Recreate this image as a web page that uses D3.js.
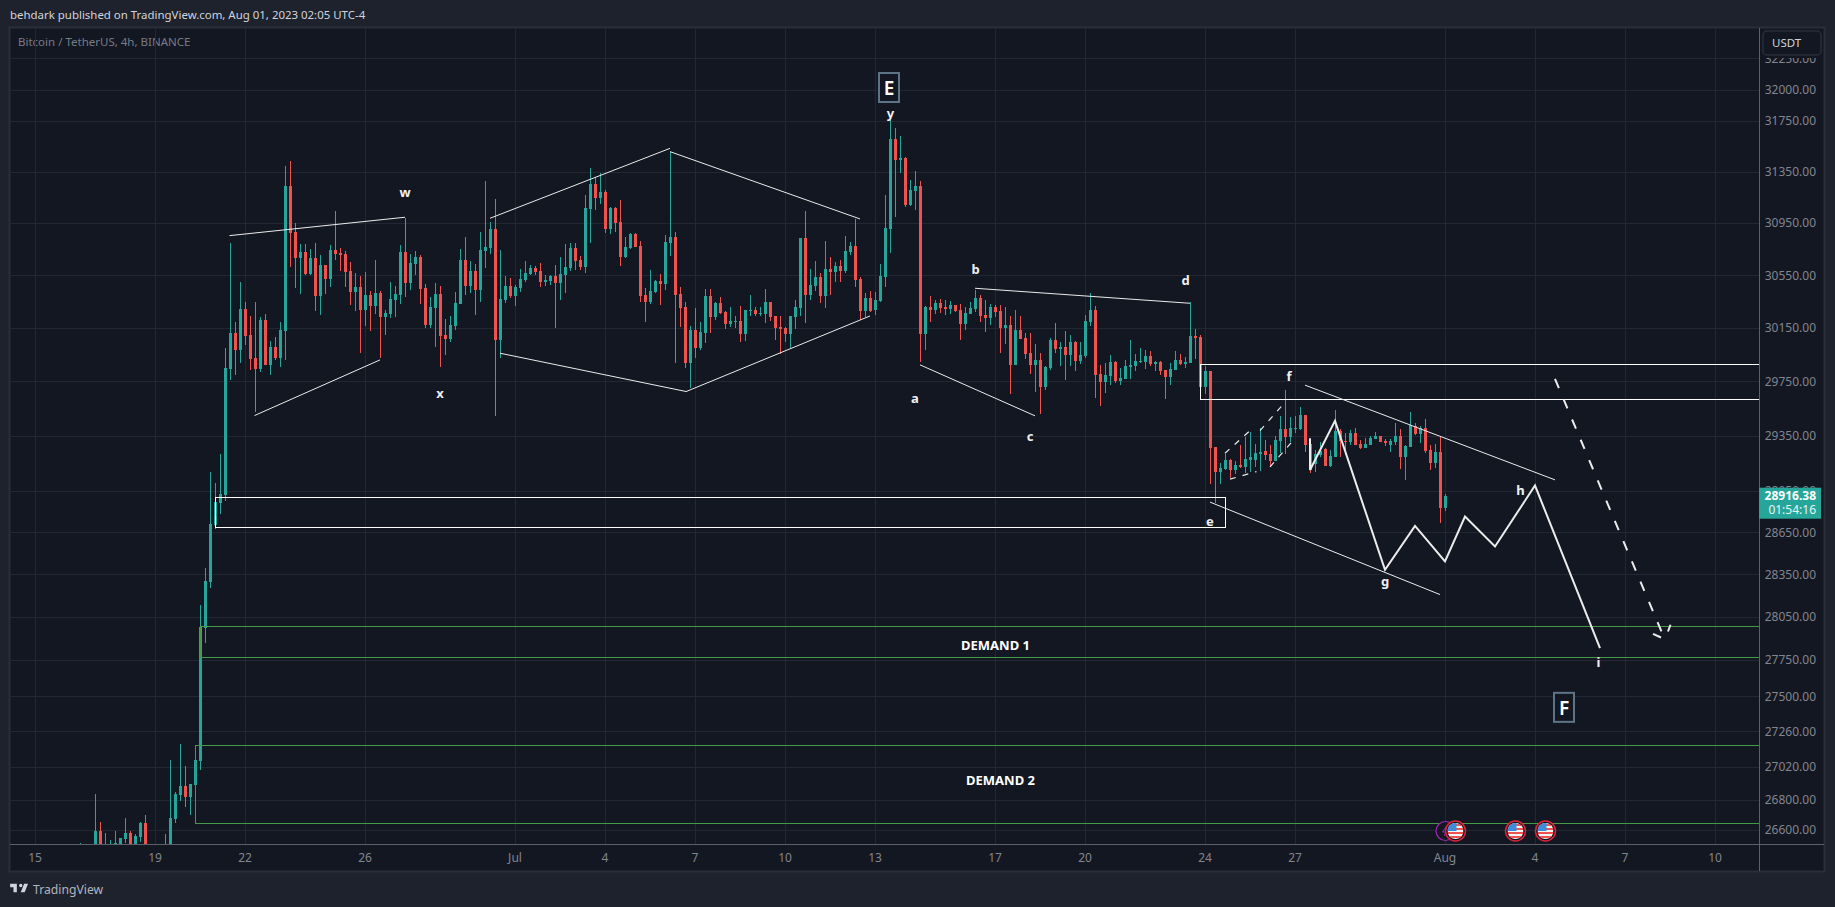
<!DOCTYPE html>
<html>
<head>
<meta charset="utf-8">
<title>BTCUSDT 4h</title>
<script src="https://cdn.jsdelivr.net/npm/d3@7/dist/d3.min.js"></script>
<style>
    html, body { margin: 0; padding: 0; background: #1e222d; overflow: hidden; }
    svg { display: block; }
    text { font-family: "Noto Sans", "Open Sans", sans-serif; }
</style>
</head>
<body>
<svg id="chart" width="1835" height="907"></svg>
<script>
// 4h candles, first bar is Jun 16 12:00, one row = ten bars
const opens = [
    26440,26450,26430,26460,26595,26480,26450,26470,26490,26541,
    26581,26490,26555,26648,26470,26450,26470,26490,26470,26674,
    26835,26895,26821,26902,27064,27978,28301,28707,28865,28923,
    29847,30116,29989,30297,30101,29929,29847,30214,29877,30011,
    29929,30131,31242,30885,30686,30732,30563,30686,30396,30632,
    30525,30747,30724,30716,30586,30426,30464,30290,30403,30320,
    30418,30237,30260,30365,30403,30732,30494,30640,30693,30456,
    30177,30305,30411,30101,30071,30169,30335,30670,30472,30586,
    30441,30739,30763,30909,30064,30365,30472,30396,30456,30517,
    30563,30609,30586,30502,30510,30548,30494,30556,30609,30763,
    30670,30617,31063,31258,31149,31195,30909,31071,30963,30693,
    30763,30870,30778,30403,30350,30426,30510,30487,30801,30847,
    30411,30312,29892,30139,30004,30116,30396,30237,30343,30275,
    30184,30199,30207,30109,30282,30290,30260,30260,30350,30244,
    30162,30154,30109,30237,30305,30839,30403,30472,30540,30396,
    30601,30578,30624,30586,30732,30778,30525,30282,30380,30290,
    30358,30540,30909,31611,31446,31461,31094,31203,31242,30109,
    30312,30290,30343,30312,30297,30327,30290,30184,30260,30297,
    30380,30252,30229,30312,30282,30154,30177,29877,30139,30079,
    29966,29877,29914,29713,29854,30064,29996,30011,29951,30049,
    29906,29944,30199,30290,29809,29750,29795,29899,29757,29772,
    29862,29869,29899,29899,29944,29884,29899,29839,29787,29839,
    29914,29884,29892,30094,30086,29713,29832,29271,29089,29110,
    29176,29103,29140,29125,29176,29176,29220,29242,29220,29169,
    29315,29403,29344,29403,29403,29506,29293,29147,29212,29256,
    29132,29198,29388,29315,29307,29373,29293,29263,29285,29329,
    29351,29315,29285,29307,29351,29198,29271,29425,29366,29410,
    29249,29154,29234,28829
];
const highs = [
    26515,26490,26480,26841,26654,26581,26535,26595,26548,26681,
    26595,26575,26654,26701,26500,26490,26500,26575,27070,26855,
    27179,27030,26909,27070,28139,28400,29089,29009,29220,30004,
    30801,30199,30502,30350,30244,30350,30237,30260,30056,30086,
    30199,31399,31438,30955,30793,30793,30755,30801,30709,30632,
    30786,31048,30763,30739,30655,30571,30548,30578,30434,30670,
    30434,30290,30502,30472,30786,30994,30716,30739,30709,30487,
    30388,30494,30472,30222,30244,30426,30755,30847,30662,30640,
    30885,31281,30963,31141,30747,30548,30533,30479,30601,30662,
    30632,30624,30647,30556,30556,30632,30693,30793,30801,30801,
    30701,31172,31383,31312,31344,31211,31079,31079,31133,30847,
    30878,30878,30816,30456,30594,30517,30563,30862,31508,30885,
    30464,30350,30169,30305,30199,30449,30449,30350,30388,30282,
    30312,30244,30320,30290,30403,30312,30312,30449,30350,30244,
    30244,30162,30244,30365,30839,31048,30601,30662,30571,30816,
    30693,30655,30670,30855,30809,30986,30540,30418,30434,30426,
    30640,31172,31761,31698,31635,31469,31289,31359,31281,30320,
    30396,30365,30373,30365,30358,30327,30335,30312,30350,30441,
    30403,30365,30335,30327,30327,30312,30244,30290,30244,30116,
    30116,30034,29966,29869,30079,30192,30049,30131,30101,30056,
    30049,30252,30418,30320,29877,29892,29951,29906,29854,29914,
    30064,29959,30004,29989,29981,29906,29906,29839,29892,29981,
    29959,29936,30350,30146,30101,29869,29832,29271,29154,29220,
    29183,29169,29285,29344,29381,29293,29410,29322,29285,29351,
    29499,29691,29491,29499,29565,29506,29293,29249,29307,29263,
    29249,29543,29403,29373,29395,29410,29322,29337,29351,29381,
    29351,29329,29329,29447,29403,29285,29528,29447,29425,29476,
    29285,29293,29344,28930
];
const lows = [
    26420,26420,26400,26440,26450,26440,26430,26440,26470,26515,
    26450,26470,26521,26450,26430,26420,26440,26450,26450,26648,
    26795,26755,26701,26902,27003,27873,28258,28678,28786,28879,
    29765,29802,29892,30026,29839,29528,29824,29877,29802,29914,
    29862,29914,30617,30456,30411,30556,30556,30282,30252,30411,
    30464,30670,30586,30464,30327,30282,29966,30169,30131,30260,
    29929,30101,30229,30237,30335,30388,30441,30556,30335,30154,
    30154,30011,29862,29951,30049,30139,30335,30403,30418,30252,
    30350,30609,30716,29499,29929,30343,30380,30320,30426,30502,
    30556,30556,30464,30472,30479,30154,30365,30418,30586,30594,
    30594,30571,30801,31055,31102,30878,30870,30885,30624,30686,
    30755,30770,30350,30199,30335,30418,30327,30441,30701,29892,
    30162,29854,29705,29929,29989,30041,30116,30214,30260,30146,
    30162,30154,30049,30056,30244,30244,30244,30192,30207,30064,
    29959,30049,30004,30146,30244,30192,30365,30434,30343,30305,
    30403,30502,30502,30571,30709,30464,30214,30237,30275,30252,
    30350,30464,30724,31001,31344,31079,31087,31055,29899,29989,
    30199,30260,30267,30252,30260,30275,30064,30139,30260,30275,
    30199,30124,30177,30237,29966,30034,29661,29877,30071,29921,
    29809,29676,29513,29691,29839,29966,29869,29765,29869,29832,
    29884,29929,30169,29631,29572,29668,29728,29743,29728,29772,
    29772,29832,29892,29847,29869,29832,29802,29624,29728,29839,
    29877,29854,29892,29921,29713,29661,29002,28865,29002,29103,
    29045,29074,29118,29081,29089,29125,29096,29176,29125,29169,
    29227,29220,29307,29373,29395,29234,29081,29089,29198,29132,
    29125,29198,29198,29212,29285,29285,29256,29263,29285,29329,
    29307,29278,29234,29285,29110,29031,29271,29359,29300,29227,
    29103,29118,28721,28807
];
const closes = [
    26470,26430,26460,26595,26470,26460,26480,26515,26548,26581,
    26490,26561,26648,26480,26450,26470,26460,26470,26681,26841,
    26895,26821,26909,27070,27985,28308,28714,28872,28930,29854,
    30116,29989,30297,30094,29921,29847,30214,29877,30011,29929,
    30139,31242,30878,30686,30732,30563,30686,30396,30632,30525,
    30747,30716,30709,30578,30426,30464,30290,30403,30320,30418,
    30237,30267,30373,30411,30732,30494,30647,30693,30449,30177,
    30312,30411,30094,30071,30177,30343,30670,30472,30586,30441,
    30747,30770,30909,30064,30373,30472,30396,30464,30525,30571,
    30609,30578,30502,30517,30548,30494,30563,30617,30763,30662,
    30617,31071,31258,31149,31195,30909,31071,30955,30693,30770,
    30870,30770,30396,30350,30434,30510,30487,30809,30847,30403,
    30305,29892,30139,30004,30124,30396,30237,30343,30267,30184,
    30207,30207,30109,30290,30290,30260,30267,30350,30237,30154,
    30146,30109,30244,30312,30839,30403,30479,30540,30396,30601,
    30578,30624,30586,30739,30778,30517,30282,30380,30282,30365,
    30548,30916,31611,31446,31461,31094,31211,31242,30109,30312,
    30290,30343,30305,30297,30327,30282,30184,30267,30305,30380,
    30244,30229,30312,30275,30154,30177,29877,30139,30071,29959,
    29877,29914,29713,29862,30064,29996,30011,29951,30049,29906,
    29951,30207,30290,29802,29750,29802,29899,29757,29780,29869,
    29877,29906,29906,29944,29884,29899,29832,29787,29847,29914,
    29884,29899,30094,30079,29713,29832,29263,29089,29118,29176,
    29103,29140,29125,29183,29198,29227,29234,29212,29169,29322,
    29403,29344,29410,29410,29506,29285,29103,29220,29242,29132,
    29205,29388,29315,29307,29373,29285,29263,29293,29337,29351,
    29307,29300,29315,29351,29198,29278,29432,29366,29410,29242,
    29154,29234,28829,28916.38
];

const priceTicks = [32250, 32000, 31750, 31350, 30950, 30550, 30150, 29750, 29350, 28950,
    28650, 28350, 28050, 27750, 27500, 27260, 27020, 26800, 26600];
const timeTickBars = [-9, 15, 33, 57, 87, 105, 123, 141, 159, 183, 201, 225, 243, 273, 291, 309, 327];
const timeTickLabels = ['15', '19', '22', '26', 'Jul', '4', '7', '10', '13', '17', '20', '24', '27', 'Aug', '4', '7', '10'];

// drawings, points are [bar, price]
const thinLines = [
    [[29.8, 30857], [64.9, 30999]],
    [[34.8, 29501], [59.9, 29914]],
    [[81.9, 30991], [117.9, 31537]],
    [[117.9, 31511], [155.9, 30986]],
    [[83.9, 29964], [121.2, 29678]],
    [[121.1, 29678], [157.9, 30244]],
    [[167.9, 29877], [190.9, 29499]],
    [[178.9, 30454], [221.9, 30340]],
    [[244.9, 29726], [294.9, 29031]],
    [[225.9, 28870], [271.9, 28211]]
];
const pathLine = [[245.9, 29334], [245.9, 29103], [250.9, 29462], [260.9, 28386], [266.9, 28699],
    [272.9, 28445], [276.9, 28766], [282.9, 28552], [290.9, 28990], [303.9, 27836]];
const thinDashed = [
    [[228.9, 29225], [233.9, 29390]],
    [[235.9, 29390], [240.9, 29599]],
    [[229.9, 29036], [235.2, 29091]],
    [[237.9, 29125], [242.9, 29334]]
];
const thickDashed = [
    [[294.9, 29772], [316.3, 27943]],
    [[314.5, 27936], [316.1, 27910]],
    [[317.5, 27952], [318.0, 27999]]
];
const whiteBoxes = [
    { left: 224, right: null, top: 29882, bottom: 29621 },
    { left: 27, right: 229, top: 28905, bottom: 28690 }
];
const demandBoxes = [
    { left: 23.9, top: 27987, bottom: 27774 },
    { left: 23, top: 27170, bottom: 26646 }
];
const waveLabels = [
    ['w', 64.9, 31188], ['x', 71.9, 29668], ['y', 162, 31817], ['a', 166.9, 29631],
    ['b', 179, 30601], ['c', 189.9, 29347], ['d', 221, 30517], ['e', 225.9, 28730],
    ['f', 241.7, 29790], ['g', 260.9, 28303], ['h', 288, 28952], ['i', 303.6, 27736]
];
const zoneLabels = [['DEMAND 1', 183, 27852], ['DEMAND 2', 184, 26929]];
const boxedLabels = [['E', 161.7, 32016], ['F', 296.7, 27424]];
const eventBars = [275, 287, 293];
const dividendBar = 273;

const W = 1835, H = 907;
const plot = { left: 10, top: 28, right: 1759, bottom: 844, outerRight: 1824, outerBottom: 871 };
const colors = { up: '#26a69a', down: '#ef5350', grid: '#232733', text: '#82858f', line: '#5d606b' };

const svg = d3.select('#chart');

const x = d3.scaleLinear().domain([0, 273]).range([80.5, 1445.5]);
const y = d3.scaleLog().domain([32000, 26600]).range([90, 830]);

// page frame
svg.append('rect').attr('width', W).attr('height', H).attr('fill', '#1e222d');
svg.append('rect')
    .attr('x', plot.left - 0.5).attr('y', plot.top - 0.5)
    .attr('width', plot.outerRight - plot.left + 1).attr('height', plot.outerBottom - plot.top + 1)
    .attr('fill', '#131722').attr('stroke', '#2a2e39').attr('stroke-width', 2);

svg.append('text').attr('x', 10).attr('y', 19)
    .attr('font-size', 11.45).attr('fill', '#d1d4dc')
    .text('behdark published on TradingView.com, Aug 01, 2023 02:05 UTC-4');
svg.append('text').attr('x', 18).attr('y', 46)
    .attr('font-size', 11.5).attr('fill', '#787b86')
    .text('Bitcoin / TetherUS, 4h, BINANCE');

svg.append('clipPath').attr('id', 'plot-clip').append('rect')
    .attr('x', plot.left).attr('y', plot.top)
    .attr('width', plot.right - plot.left).attr('height', plot.bottom - plot.top);

// grid
const grid = svg.append('g').attr('clip-path', 'url(#plot-clip)').attr('shape-rendering', 'crispEdges');
grid.selectAll('line.h').data(priceTicks).enter().append('line')
    .attr('x1', plot.left).attr('x2', plot.right)
    .attr('y1', d => y(d)).attr('y2', d => y(d))
    .attr('stroke', colors.grid);
grid.selectAll('line.v').data(timeTickBars).enter().append('line')
    .attr('x1', d => x(d)).attr('x2', d => x(d))
    .attr('y1', plot.top).attr('y2', plot.bottom)
    .attr('stroke', colors.grid);

// candles
const candles = svg.append('g').attr('clip-path', 'url(#plot-clip)').attr('shape-rendering', 'crispEdges');
const bars = candles.selectAll('g').data(d3.range(opens.length)).enter().append('g')
    .attr('fill', i => closes[i] >= opens[i] ? colors.up : colors.down)
    .attr('stroke', i => closes[i] >= opens[i] ? colors.up : colors.down);
bars.append('line')
    .attr('x1', i => x(i)).attr('x2', i => x(i))
    .attr('y1', i => y(highs[i])).attr('y2', i => y(lows[i]));
bars.append('rect')
    .attr('x', i => x(i) - 1.5).attr('width', 3)
    .attr('y', i => y(Math.max(opens[i], closes[i])))
    .attr('height', i => Math.max(1, Math.abs(y(opens[i]) - y(closes[i]))))
    .attr('stroke', 'none');

// drawings
const drawings = svg.append('g').attr('clip-path', 'url(#plot-clip)');
const lineGen = d3.line().x(d => x(d[0])).y(d => y(d[1]));

drawings.selectAll('rect.demand').data(demandBoxes).enter().append('rect')
    .attr('class', 'demand')
    .attr('x', d => x(d.left)).attr('y', d => y(d.top))
    .attr('width', d => plot.right - x(d.left)).attr('height', d => y(d.bottom) - y(d.top))
    .attr('fill', 'none').attr('stroke', '#459a49').attr('stroke-width', 1)
    .attr('shape-rendering', 'crispEdges');

drawings.selectAll('rect.zone').data(whiteBoxes).enter().append('rect')
    .attr('class', 'zone')
    .attr('x', d => x(d.left)).attr('y', d => y(d.top))
    .attr('width', d => (d.right === null ? plot.right + 2 : x(d.right)) - x(d.left))
    .attr('height', d => y(d.bottom) - y(d.top))
    .attr('fill', 'none').attr('stroke', '#fff').attr('stroke-width', 1)
    .attr('shape-rendering', 'crispEdges');

drawings.selectAll('path.thin').data(thinLines).enter().append('path')
    .attr('class', 'thin').attr('d', lineGen)
    .attr('fill', 'none').attr('stroke', '#ececec').attr('stroke-width', 1);

drawings.selectAll('path.thin-dash').data(thinDashed).enter().append('path')
    .attr('class', 'thin-dash').attr('d', lineGen)
    .attr('fill', 'none').attr('stroke', '#ececec').attr('stroke-width', 1.2).attr('stroke-dasharray', '6 7');

drawings.append('path').attr('d', lineGen(pathLine))
    .attr('fill', 'none').attr('stroke', '#ececec').attr('stroke-width', 2).attr('stroke-linejoin', 'miter');

drawings.selectAll('path.thick-dash').data(thickDashed).enter().append('path')
    .attr('class', 'thick-dash').attr('d', lineGen)
    .attr('fill', 'none').attr('stroke', '#ececec').attr('stroke-width', 2).attr('stroke-dasharray', '10 12');

// labels
drawings.selectAll('text.wave').data(waveLabels).enter().append('text')
    .attr('class', 'wave')
    .attr('x', d => x(d[1])).attr('y', d => y(d[2])).attr('dy', '0.35em')
    .attr('text-anchor', 'middle').attr('font-size', 13).attr('font-weight', 700).attr('fill', '#f0f0f0')
    .text(d => d[0]);
drawings.selectAll('text.zone-label').data(zoneLabels).enter().append('text')
    .attr('class', 'zone-label')
    .attr('x', d => x(d[1])).attr('y', d => y(d[2])).attr('dy', '0.35em')
    .attr('text-anchor', 'middle').attr('font-size', 13).attr('font-weight', 700).attr('fill', '#fff')
    .text(d => d[0]);

const boxed = drawings.selectAll('g.boxed').data(boxedLabels).enter().append('g').attr('class', 'boxed');
boxed.append('rect')
    .attr('x', d => x(d[1]) - 10).attr('y', d => y(d[2]) - 15)
    .attr('width', 20).attr('height', 29)
    .attr('fill', '#131722').attr('stroke', '#5d7486').attr('stroke-width', 2);
boxed.append('text')
    .attr('x', d => x(d[1])).attr('y', d => y(d[2])).attr('dy', '0.35em')
    .attr('text-anchor', 'middle').attr('font-size', 19).attr('font-weight', 600).attr('fill', '#fff')
    .text(d => d[0]);

// axes
const yAxis = d3.axisRight(y).tickValues(priceTicks).tickFormat(d3.format('.2f')).tickSize(0);
const yG = svg.append('g').attr('transform', `translate(${plot.right},-0.5)`).call(yAxis);
yG.select('.domain').remove();
yG.selectAll('text').attr('x', 57).attr('text-anchor', 'end').attr('font-size', 12).attr('font-family', null).attr('fill', colors.text);

const xAxis = d3.axisBottom(x).tickValues(timeTickBars).tickFormat((d, i) => timeTickLabels[i]).tickSize(0);
const xG = svg.append('g').attr('transform', `translate(-1,${plot.bottom})`).call(xAxis);
xG.select('.domain').remove();
xG.selectAll('text').attr('y', 9).attr('font-size', 12).attr('font-family', null).attr('fill', colors.text);

svg.append('g').attr('shape-rendering', 'crispEdges').call(g => {
    g.append('line').attr('x1', plot.right + 0.5).attr('x2', plot.right + 0.5).attr('y1', plot.top).attr('y2', plot.outerBottom).attr('stroke', colors.line);
    g.append('line').attr('x1', plot.left).attr('x2', plot.outerRight).attr('y1', plot.bottom + 0.5).attr('y2', plot.bottom + 0.5).attr('stroke', colors.line);
});

// currency button, the scale labels are cut off where it starts
svg.append('rect').attr('x', 1760).attr('y', 29).attr('width', 63).attr('height', 29).attr('fill', '#131722');
svg.append('rect').attr('x', 1763).attr('y', 31).attr('width', 58).attr('height', 24).attr('rx', 4)
    .attr('fill', '#131722').attr('stroke', '#2a2e39').attr('stroke-width', 1.5);
svg.append('text').attr('x', 1772).attr('y', 47).attr('font-size', 11.5).attr('fill', '#d1d4dc').text('USDT');

// last price tag
const lastClose = closes[closes.length - 1];
const tagY = y(lastClose);
svg.append('rect').attr('x', plot.right).attr('y', tagY - 8).attr('width', 62).attr('height', 31).attr('fill', colors.up);
svg.append('text').attr('x', 1816).attr('y', tagY + 4.5).attr('text-anchor', 'end')
    .attr('font-size', 12).attr('font-weight', 700).attr('fill', '#fff').text(d3.format('.2f')(lastClose));
svg.append('text').attr('x', 1816).attr('y', tagY + 18.5).attr('text-anchor', 'end')
    .attr('font-size', 12).attr('fill', '#e8f5f3').text('01:54:16');

// event pins along the bottom
const pinY = 831;
const pins = svg.append('g');
pins.append('circle').attr('cx', x(dividendBar)).attr('cy', pinY).attr('r', 9.5)
    .attr('fill', '#131722').attr('stroke', '#9c27b0').attr('stroke-width', 1.2);
pins.append('path')
    .attr('transform', `translate(${x(dividendBar)},${pinY})`)
    .attr('d', 'M1-5L-3 1H0L-1 5').attr('fill', 'none').attr('stroke', '#9c27b0');

svg.append('clipPath').attr('id', 'flag-clip').append('circle').attr('r', 8);
const flags = pins.selectAll('g.flag').data(eventBars).enter().append('g')
    .attr('class', 'flag')
    .attr('transform', d => `translate(${x(d)},${pinY})`);
flags.append('circle').attr('r', 10).attr('fill', '#131722').attr('stroke', '#e0243a').attr('stroke-width', 1.5);
const flag = flags.append('g').attr('clip-path', 'url(#flag-clip)');
flag.append('rect').attr('x', -8).attr('y', -8).attr('width', 16).attr('height', 16).attr('fill', '#f5f5f5');
flag.selectAll('rect.stripe').data([-6, -2, 2, 6]).enter().append('rect')
    .attr('class', 'stripe')
    .attr('x', -8).attr('y', d => d - 1).attr('width', 16).attr('height', 2).attr('fill', '#ef5350');
flag.append('rect').attr('x', -8).attr('y', -8).attr('width', 9).attr('height', 8).attr('fill', '#3d8bd9');

// footer
svg.append('path')
    .attr('transform', 'translate(9,880.5) scale(0.56)')
    .attr('fill', '#d1d4dc')
    .attr('d', 'M14 6H2v6h6v9h6V6zm14 15h-7l6-15h7l-6 15zm-7-9a3 3 0 1 0 0-6 3 3 0 0 0 0 6z');
svg.append('text').attr('x', 33).attr('y', 894)
    .attr('font-size', 12.2).attr('fill', '#b2b5be').text('TradingView');
</script>
</body>
</html>
